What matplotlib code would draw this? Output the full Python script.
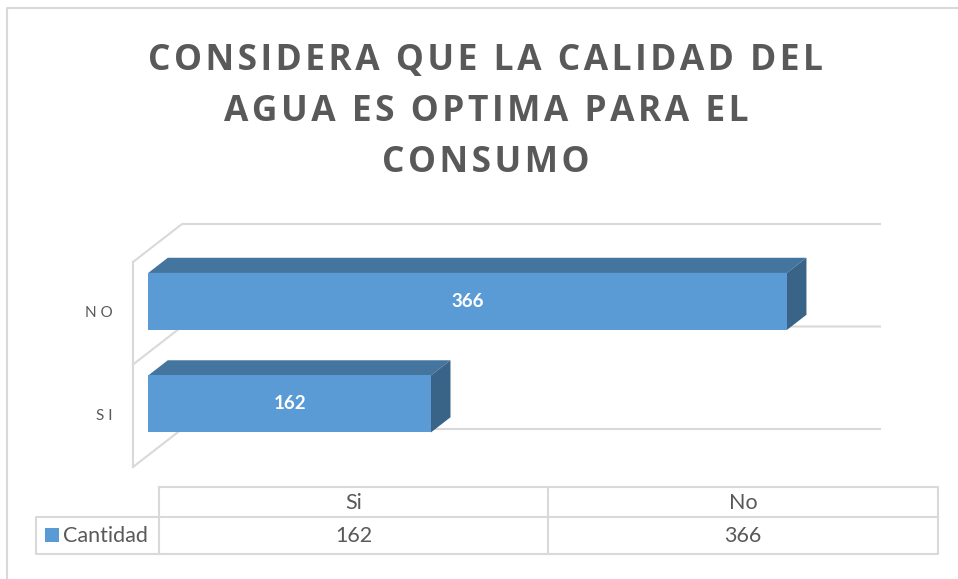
import matplotlib
matplotlib.use("Agg")
import matplotlib.pyplot as plt
from matplotlib.patches import Polygon, Rectangle

plt.rcParams["font.family"] = ["Open Sans", "DejaVu Sans"]

# data
categories = ["S I", "N O"]
table_cols = ["Si", "No"]
cantidad = [162, 366]
series_name = "Cantidad"
title_lines = ["CONSIDERA QUE LA CALIDAD DEL", "AGUA ES OPTIMA PARA EL", "CONSUMO"]

W, H = 958, 579
FRONT = "#5B9BD5"
TOP = "#44759F"
SIDE = "#3A6388"
GRID = "#D9D9D9"
TXT = "#595959"

fig = plt.figure(figsize=(W / 100, H / 100), dpi=100)

# pixel overlay for frame, title and data table
bg = fig.add_axes([0, 0, 1, 1])
bg.set_xlim(0, W)
bg.set_ylim(H, 0)
bg.axis("off")
bg.plot([7, 7, W], [H, 8, 8], color=GRID, lw=1.5)

# spaced-out title (hair space between letters)
spaced = "\n".join("\u200a".join(line) for line in title_lines)
bg.text(486, 112, spaced, ha="center", va="center", fontsize=25.5,
        fontweight="bold", color=TXT, linespacing=1.57,
        family=["Open Sans", "DejaVu Sans"])

# main 3d-looking bar chart, front floor plane in data units
xmax = 400
ax = fig.add_axes([133 / W, (H - 467) / H, 698 / W, 205 / H])
ax.set_xlim(0, xmax)
ax.set_ylim(-0.5, len(categories) - 0.5)
ax.axis("off")
ax.patch.set_alpha(0)

px_x = 698 / xmax
px_y = 205 / len(categories)
DX, DY = 49 / px_x, 38 / px_y      # full depth of the floor
f0, f1 = 0.31, 0.71                # bar depth range
bh = 57 / px_y

for yb in [i - 0.5 for i in range(len(categories) + 1)]:
    ax.plot([0, DX, xmax + DX], [yb, yb + DY, yb + DY], color=GRID, lw=1.5,
            clip_on=False, zorder=1)
ax.plot([0, 0], [-0.5, len(categories) - 0.5], color=GRID, lw=1.5,
        clip_on=False, zorder=1)

ddx, ddy = (f1 - f0) * DX, (f1 - f0) * DY
for i, v in enumerate(cantidad):
    x0 = f0 * DX
    y0 = i + f0 * DY - bh / 2
    ax.add_patch(Polygon([(x0, y0 + bh), (x0 + v, y0 + bh),
                          (x0 + v + ddx, y0 + bh + ddy), (x0 + ddx, y0 + bh + ddy)],
                         closed=True, fc=TOP, ec="none", clip_on=False, zorder=3))
    ax.add_patch(Polygon([(x0 + v, y0), (x0 + v + ddx, y0 + ddy),
                          (x0 + v + ddx, y0 + bh + ddy), (x0 + v, y0 + bh)],
                         closed=True, fc=SIDE, ec="none", clip_on=False, zorder=3))
    ax.add_patch(Rectangle((x0, y0), v, bh, fc=FRONT, ec="none",
                           clip_on=False, zorder=4))
    ax.text(x0 + v / 2, i + f0 * DY, str(v), ha="center", va="center",
            color="white", fontsize=13.5, fontweight="bold", family=["Lato"],
            zorder=5)
    ax.text(-20 / px_x, i, categories[i], ha="right", va="center",
            color=TXT, fontsize=11, family=["Lato"])

# data table
col_x = [159, 548, 938]
row_y = [487, 517, 554]
lw = 1.5
bg.plot([col_x[0], col_x[-1], col_x[-1], 36, 36, col_x[-1]],
        [row_y[0], row_y[0], row_y[2], row_y[2], row_y[1], row_y[1]],
        color=GRID, lw=lw)
for cx in col_x[:-1]:
    bg.plot([cx, cx], [row_y[0], row_y[2]], color=GRID, lw=lw)
for j, (c, v) in enumerate(zip(table_cols, cantidad)):
    xc = (col_x[j] + col_x[j + 1]) / 2
    bg.text(xc, (row_y[0] + row_y[1]) / 2 + 1, c, ha="center", va="center",
            color=TXT, fontsize=15.5, family=["Lato"])
    bg.text(xc, (row_y[1] + row_y[2]) / 2 + 1, str(v), ha="center", va="center",
            color=TXT, fontsize=15.5, family=["Lato"])
bg.add_patch(Rectangle((45, 528), 14, 14, fc=FRONT, ec="none"))
bg.text(63, (row_y[1] + row_y[2]) / 2 + 1, series_name, ha="left", va="center",
        color=TXT, fontsize=15.5, family=["Lato"])

fig.savefig("out.png", dpi=100, facecolor="white")
